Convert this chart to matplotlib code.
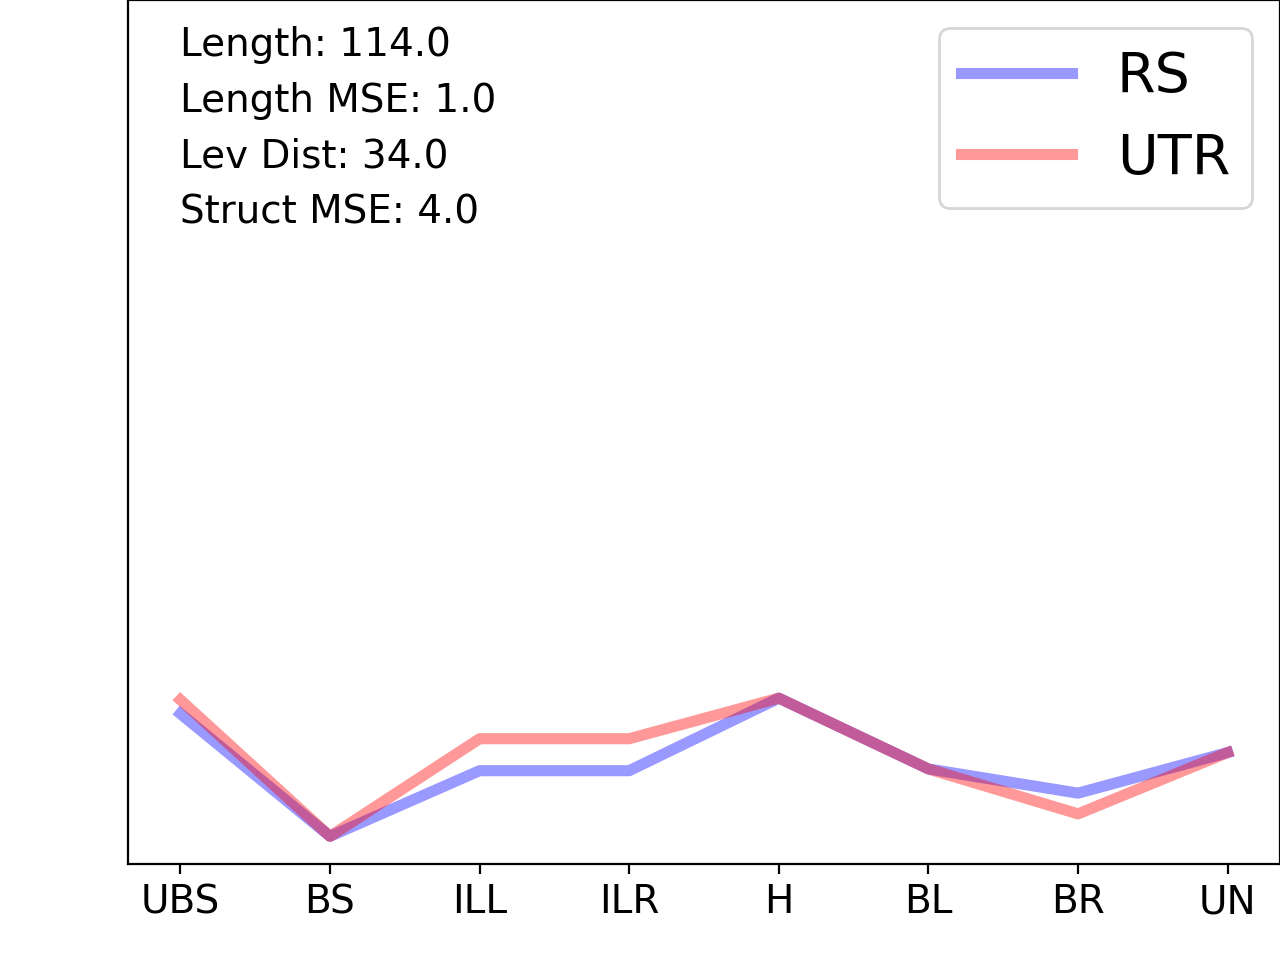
import matplotlib
matplotlib.use('Agg')
import matplotlib.pyplot as plt

# categories on the x axis
labels = ['UBS', 'BS', 'ILL', 'ILR', 'H', 'BL', 'BR', 'UN']
rs = [17.4, 3.2, 10.8, 10.8, 19.2, 11.0, 8.2, 12.9]
utr = [19.0, 3.2, 14.5, 14.5, 19.2, 11.0, 5.8, 12.9]
stats = ['Length: 114.0', 'Length MSE: 1.0', 'Lev Dist: 34.0', 'Struct MSE: 4.0']

fig = plt.figure(figsize=(6.4, 4.8), dpi=200)
ax = fig.add_axes([0.1, 0.1, 0.9, 0.9])

x = range(len(labels))
ax.plot(x, rs, color='blue', alpha=0.4, lw=4, label='RS')
ax.plot(x, utr, color='red', alpha=0.4, lw=4, label='UTR')

ax.set_ylim(0, 100)
ax.set_yticks([])
ax.set_xticks(list(x))
ax.set_xticklabels(labels, fontsize=14)

# the stats block top-left
ax.text(0.045, 0.97, '\n'.join(stats), transform=ax.transAxes, fontsize=14,
        va='top', ha='left', linespacing=1.594)

ax.legend(fontsize=20, loc='upper right')

fig.savefig('out.png', dpi=200)
